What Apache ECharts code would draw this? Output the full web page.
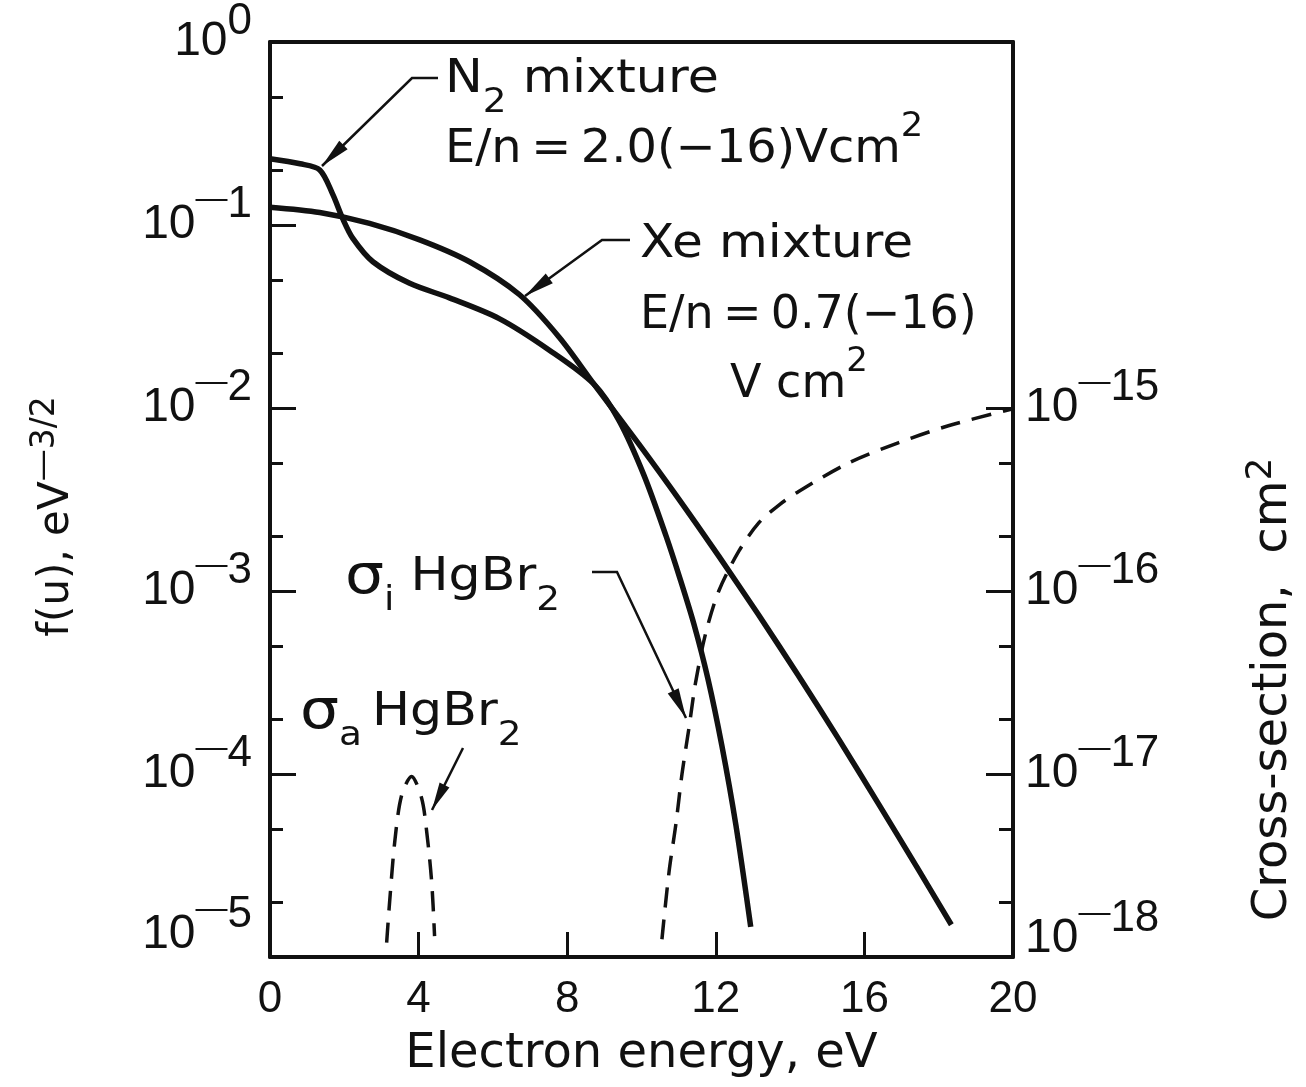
<!DOCTYPE html>
<html>
<head>
<meta charset="utf-8">
<title>Electron energy distribution and HgBr2 cross-sections</title>
<script src="https://cdn.jsdelivr.net/npm/echarts@6/dist/echarts.min.js"></script>
<style>
  html, body { margin: 0; padding: 0; background: #fff; }
  #chart { width: 1306px; height: 1087px; }
</style>
</head>
<body>
<div id="chart"></div>
<script>
// f(u) of the N2 mixture, E/n = 2.0(-16) V cm2 (left axis)
const n2Energy = [0, 0.81, 1.34, 1.69, 1.96, 2.23, 2.77, 3.76, 4.83, 6.17, 7.52, 8.72, 9.4, 10.07, 10.66, 11.03, 11.41, 11.79, 12.16, 12.54, 12.94];
const n2F = [0.23, 0.216, 0.2, 0.147, 0.108, 0.0845, 0.063, 0.048, 0.04, 0.0308, 0.0207, 0.0135, 0.0085, 0.00427, 0.002, 0.00118, 0.00066, 0.00033, 0.000144, 0.0000527, 0.0000146];

// f(u) of the Xe mixture, E/n = 0.7(-16) V cm2 (left axis)
const xeEnergy = [0, 1.34, 2.68, 4.03, 5.37, 6.71, 7.79, 8.72, 9.93, 11.01, 12.08, 13.15, 14.23, 15.3, 16.38, 17.45, 18.34];
const xeF = [0.125, 0.117, 0.102, 0.083, 0.063, 0.0417, 0.0243, 0.0135, 0.00635, 0.00317, 0.00155, 0.000741, 0.000343, 0.000156, 0.0000687, 0.0000301, 0.000015];

// HgBr2 attachment cross-section sigma_a (right axis, cm2)
const sigmaAEnergy = [3.14, 3.22, 3.36, 3.54, 3.81, 4.08, 4.21, 4.35, 4.43];
const sigmaA = [1.2e-18, 2.0e-18, 4.3e-18, 7.6e-18, 9.7e-18, 7.4e-18, 5.0e-18, 2.6e-18, 1.3e-18];

// HgBr2 ionization cross-section sigma_i (right axis, cm2)
const sigmaIEnergy = [10.55, 10.74, 10.93, 11.09, 11.28, 11.46, 11.73, 12.08, 12.62, 13.15, 13.7, 14.23, 15.57, 16.91, 18.26, 20];
const sigmaI = [1.25e-18, 2.9e-18, 5.4e-18, 1.0e-17, 1.8e-17, 3.2e-17, 5.9e-17, 1.0e-16, 1.65e-16, 2.35e-16, 2.95e-16, 3.5e-16, 5.0e-16, 6.45e-16, 8.0e-16, 9.9e-16];

// ticks
const xTicks = [0, 4, 8, 12, 16, 20];
const leftMinorTicks = [0.5, 0.2, 0.05, 0.02, 0.005, 0.002, 5e-4, 2e-4, 5e-5, 2e-5];
const rightMajorTicks = [1e-15, 1e-16, 1e-17];
const rightMinorTicks = [5e-16, 2e-16, 5e-17, 2e-17, 5e-18, 2e-18];

const NUM_FONT = 'Liberation Sans, Arial, sans-serif';
const TEXT_FONT = 'DejaVu Sans, sans-serif';
const INK = '#111';

function pairs(xs, ys) {
  return xs.map((x, i) => [x, ys[i]]);
}

const powerRich = {
  b: { fontSize: 48, lineHeight: 84, fontFamily: NUM_FONT, color: INK },
  d: { fontSize: 32, lineHeight: 30, verticalAlign: 'top', fontFamily: NUM_FONT, color: INK },
  e: { fontSize: 44, lineHeight: 30, verticalAlign: 'top', fontFamily: NUM_FONT, color: INK },
  gapL: { fontSize: 10, lineHeight: 44 },
  gapR: { fontSize: 10, lineHeight: 36 },
};

// "10^-n" label; the lowest one is lifted off the corner
function powerLabel(value, lowest, gap) {
  const e = Math.round(Math.log10(value));
  let s = '{b|10}' + (e < 0 ? '{d|—}{e|' + (-e) + '}' : '{e|' + e + '}');
  if (e === lowest) s += '\n{' + gap + '| }';
  return s;
}

function leader(points, headLen, headHalf) {
  const n = points.length;
  const tip = points[n - 1];
  const prev = points[n - 2];
  const dx = tip[0] - prev[0];
  const dy = tip[1] - prev[1];
  const d = Math.hypot(dx, dy);
  const ux = dx / d, uy = dy / d;
  const bx = tip[0] - ux * headLen, by = tip[1] - uy * headLen;
  return [
    { type: 'polyline', silent: true, shape: { points: points }, style: { stroke: INK, lineWidth: 2.5, fill: null } },
    {
      type: 'polygon', silent: true,
      shape: { points: [tip, [bx - uy * headHalf, by + ux * headHalf], [bx + uy * headHalf, by - ux * headHalf]] },
      style: { fill: INK }
    }
  ];
}

const noteRich = {
  sub: { fontSize: 34, lineHeight: 26, verticalAlign: 'bottom', fontFamily: TEXT_FONT, fill: INK },
  sup: { fontSize: 34, lineHeight: 26, verticalAlign: 'top', fontFamily: TEXT_FONT, fill: INK },
  sig: { fontSize: 56, lineHeight: 80, fontFamily: TEXT_FONT, fill: INK },
};

function note(x, y, text, stretch) {
  return {
    type: 'text', x: x, y: y, scaleX: stretch || 1, silent: true,
    style: {
      text: text, fill: INK, fontSize: 46, lineHeight: 80, fontFamily: TEXT_FONT,
      align: 'left', verticalAlign: 'middle', rich: noteRich
    }
  };
}

const chart = echarts.init(document.getElementById('chart'));

const option = {
  backgroundColor: '#fff',
  animation: false,
  grid: { left: 270, right: 293, top: 42, bottom: 130, containLabel: false, outerBoundsMode: 'none' },
  xAxis: [
    {
      type: 'value', position: 'bottom', min: 0, max: 20, interval: 4,
      axisLine: { show: true, lineStyle: { color: INK, width: 4 } },
      axisTick: { show: true, inside: true, length: 25, lineStyle: { color: INK, width: 3 }, customValues: xTicks },
      axisLabel: { margin: 20, fontSize: 44, lineHeight: 46, fontFamily: NUM_FONT, color: INK, customValues: xTicks },
      splitLine: { show: false },
      name: 'Electron energy, eV', nameLocation: 'middle', nameGap: 72, nameMoveOverlap: false,
      nameTextStyle: { fontSize: 48, lineHeight: 52, fontFamily: TEXT_FONT, color: INK }
    },
    {
      type: 'value', position: 'top', min: 0, max: 20,
      axisLine: { show: true, lineStyle: { color: INK, width: 4 } },
      axisTick: { show: false }, axisLabel: { show: false }, splitLine: { show: false }
    }
  ],
  yAxis: [
    {
      type: 'log', logBase: 10, min: 1e-5, max: 1, position: 'left',
      axisLine: { show: true, lineStyle: { color: INK, width: 4 } },
      axisTick: { show: true, inside: true, length: 26, lineStyle: { color: INK, width: 3 } },
      axisLabel: { margin: 18, rich: powerRich, formatter: v => powerLabel(v, -5, 'gapL') },
      splitLine: { show: false }, minorTick: { show: false },
      name: '{n|f(u), eV}{sd|—}{s|3/2}', nameLocation: 'middle', nameGap: 185, nameMoveOverlap: false,
      nameTextStyle: {
        fontSize: 42, fontFamily: TEXT_FONT, color: INK, padding: [0, 34, 0, 0],
        rich: {
          n: { fontSize: 42, lineHeight: 56, fontFamily: TEXT_FONT, color: INK },
          sd: { fontSize: 32, lineHeight: 26, verticalAlign: 'top', fontFamily: TEXT_FONT, color: INK },
          s: { fontSize: 33, lineHeight: 26, verticalAlign: 'top', fontFamily: TEXT_FONT, color: INK }
        }
      }
    },
    {
      type: 'log', logBase: 10, min: 1e-5, max: 1, position: 'left',
      axisLine: { show: false },
      axisTick: { show: true, inside: true, length: 13, lineStyle: { color: INK, width: 3 }, customValues: leftMinorTicks },
      axisLabel: { show: false }, splitLine: { show: false }
    },
    {
      type: 'log', logBase: 10, min: 1e-18, max: 1e-13, position: 'right',
      axisLine: { show: true, lineStyle: { color: INK, width: 4 } },
      axisTick: { show: true, inside: true, length: 27, lineStyle: { color: INK, width: 3 }, customValues: rightMajorTicks },
      axisLabel: {
        margin: 12, rich: powerRich,
        formatter: v => (Math.round(Math.log10(v)) > -15 ? '' : powerLabel(v, -18, 'gapR'))
      },
      splitLine: { show: false },
      name: '{n|Cross-section,  cm}{s|2}', nameLocation: 'middle', nameGap: 231, nameMoveOverlap: false,
      nameTextStyle: {
        fontSize: 48, fontFamily: TEXT_FONT, color: INK, padding: [0, 380, 0, 0],
        rich: {
          n: { fontSize: 48, lineHeight: 60, fontFamily: TEXT_FONT, color: INK },
          s: { fontSize: 36, lineHeight: 28, verticalAlign: 'top', fontFamily: TEXT_FONT, color: INK }
        }
      }
    },
    {
      type: 'log', logBase: 10, min: 1e-18, max: 1e-13, position: 'right',
      axisLine: { show: false },
      axisTick: { show: true, inside: true, length: 14, lineStyle: { color: INK, width: 3 }, customValues: rightMinorTicks },
      axisLabel: { show: false }, splitLine: { show: false }
    }
  ],
  series: [
    {
      name: 'N2 mixture', type: 'line', xAxisIndex: 0, yAxisIndex: 0,
      data: pairs(n2Energy, n2F), showSymbol: false, smooth: 0.3,
      lineStyle: { color: INK, width: 5.5 }
    },
    {
      name: 'Xe mixture', type: 'line', xAxisIndex: 0, yAxisIndex: 0,
      data: pairs(xeEnergy, xeF), showSymbol: false, smooth: 0.3,
      lineStyle: { color: INK, width: 5.5 }
    },
    {
      name: 'sigma_a HgBr2', type: 'line', xAxisIndex: 0, yAxisIndex: 2,
      data: pairs(sigmaAEnergy, sigmaA), showSymbol: false, smooth: 0.3,
      lineStyle: { color: INK, width: 3.5, type: [20, 12] }
    },
    {
      name: 'sigma_i HgBr2', type: 'line', xAxisIndex: 0, yAxisIndex: 2,
      data: pairs(sigmaIEnergy, sigmaI), showSymbol: false, smooth: 0.3,
      lineStyle: { color: INK, width: 3.5, type: [20, 12] }
    }
  ],
  graphic: [
    note(445, 80, 'N{sub|2} mixture', 1.1),
    note(445, 150, 'E/n\u2009=\u20092.0(−16)Vcm{sup|2}', 1.04),
    note(640, 245, 'Xe mixture', 1.09),
    note(640, 316, 'E/n\u2009=\u20090.7(−16)', 1),
    note(730, 385, 'V cm{sup|2}', 1.0),
    note(345, 578, '{sig|σ}{sub|i} HgBr{sub|2}', 1.1),
    note(300, 713, '{sig|σ}{sub|a}\u2009HgBr{sub|2}', 1.1),
    ...leader([[438, 78], [412, 78], [322, 166]], 30, 6),
    ...leader([[630, 240], [602, 240], [525, 296]], 30, 6),
    ...leader([[592, 572], [617, 572], [686, 718]], 30, 6),
    ...leader([[463, 748], [432, 810]], 28, 5.5)
  ]
};

chart.setOption(option);
</script>
</body>
</html>
